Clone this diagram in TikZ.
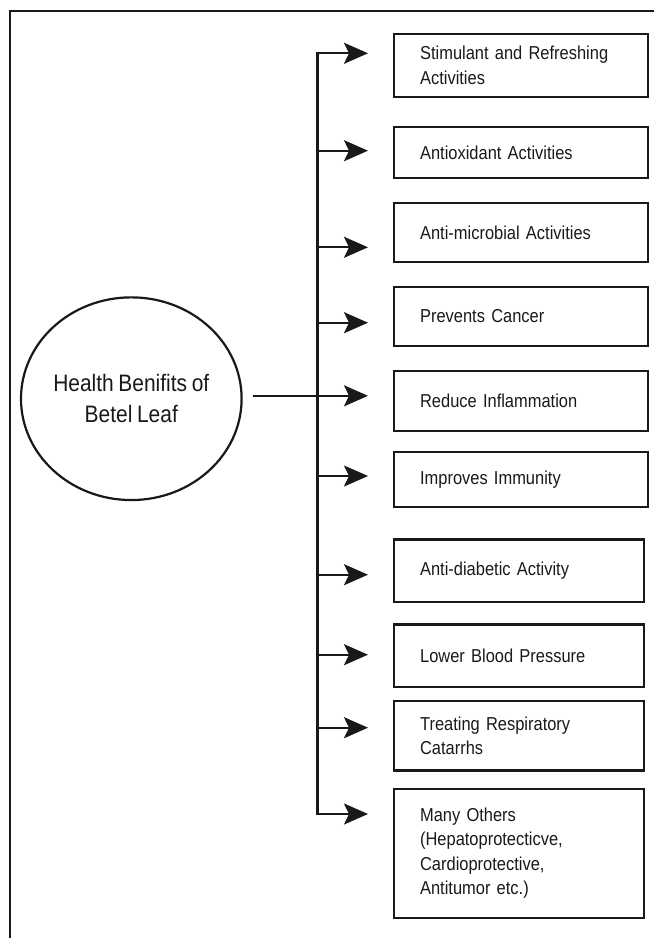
\documentclass[tikz,border=0pt]{standalone}
\usepackage{fontspec}
\setmainfont{Liberation Sans}[FakeStretch=0.88, WordSpace=0.8]
\usetikzlibrary{arrows.meta,shapes.geometric}
\begin{document}
\begin{tikzpicture}[x=1pt,y=-1pt,
  ln/.style={line width=2.2pt, draw=black!90},
  box/.style={ln, rectangle, anchor=north west, inner xsep=26pt, inner ysep=0pt, align=left,
    font=\fontsize{18.7}{24.5}\selectfont, text=black!90},
  wide/.style={text width=202pt},
  narrow/.style={text width=198pt},
  arr/.style={ln, -{Stealth[length=24pt,width=21pt,inset=5pt]}, shorten >=25pt},
]
\useasboundingbox (0,0) rectangle (654,938);
% frame
\draw[ln] (654,11) -- (10,11) -- (10,938);
% ellipse
\node[ln, ellipse, minimum width=217.4pt, minimum height=202.7pt, inner sep=0pt, align=center,
  font=\fontsize{23.8}{30.7}\selectfont, text=black!90] (e) at (131.3,398.7) {Health Benifits of\\Betel Leaf};
% boxes
\node[box, wide, minimum height=63.3pt] (b1) at (393,32.7) {Stimulant and Refreshing\\Activities};
\node[box, wide, minimum height=51pt] (b2) at (393,126) {Antioxidant Activities};
\node[box, wide, minimum height=59pt] (b3) at (393,202) {Anti-microbial Activities};
\node[box, wide, minimum height=58.7pt] (b4) at (393,286) {Prevents Cancer};
\node[box, wide, minimum height=60pt] (b5) at (393,370) {Reduce Inflammation};
\node[box, wide, minimum height=55pt] (b6) at (393,451) {Improves Immunity};
\node[box, narrow, minimum height=62.4pt] (b7) at (393,538.3) {Anti-diabetic Activity};
\node[box, narrow, minimum height=62.7pt] (b8) at (393,623.3) {Lower Blood Pressure};
\node[box, narrow, minimum height=69.3pt] (b9) at (393,700) {Treating Respiratory\\Catarrhs};
\node[box, narrow, minimum height=129pt] (b10) at (393,787.7) {Many Others\\(Hepatoprotecticve,\\Cardioprotective,\\Antitumor etc.)};
% trunk points
\coordinate (t1) at (317.5,53.3);
\coordinate (t2) at (317.5,150.7);
\coordinate (t3) at (317.5,247.3);
\coordinate (t4) at (317.5,322.7);
\coordinate (t6) at (317.5,476);
\coordinate (t7) at (317.5,574.7);
\coordinate (t8) at (317.5,654.7);
\coordinate (t9) at (317.5,727.7);
\coordinate (t10) at (317.5,814);
% trunk with end arrows
\draw[arr] (t10) -- (t1) -- (t1 -| b1.west);
\draw[arr] (t1) -- (t10) -- (t10 -| b10.west);
% branch arrows
\draw[arr] (t2) -- (t2 -| b2.west);
\draw[arr] (t3) -- (t3 -| b3.west);
\draw[arr] (t4) -- (t4 -| b4.west);
\draw[arr] (t6) -- (t6 -| b6.west);
\draw[arr] (t7) -- (t7 -| b7.west);
\draw[arr] (t8) -- (t8 -| b8.west);
\draw[arr] (t9) -- (t9 -| b9.west);
% main arrow from ellipse
\draw[arr, shorten <=10pt] ([yshift=2.9pt]e.east) -- ([yshift=2.9pt]e.east -| b5.west);
\end{tikzpicture}
\end{document}
